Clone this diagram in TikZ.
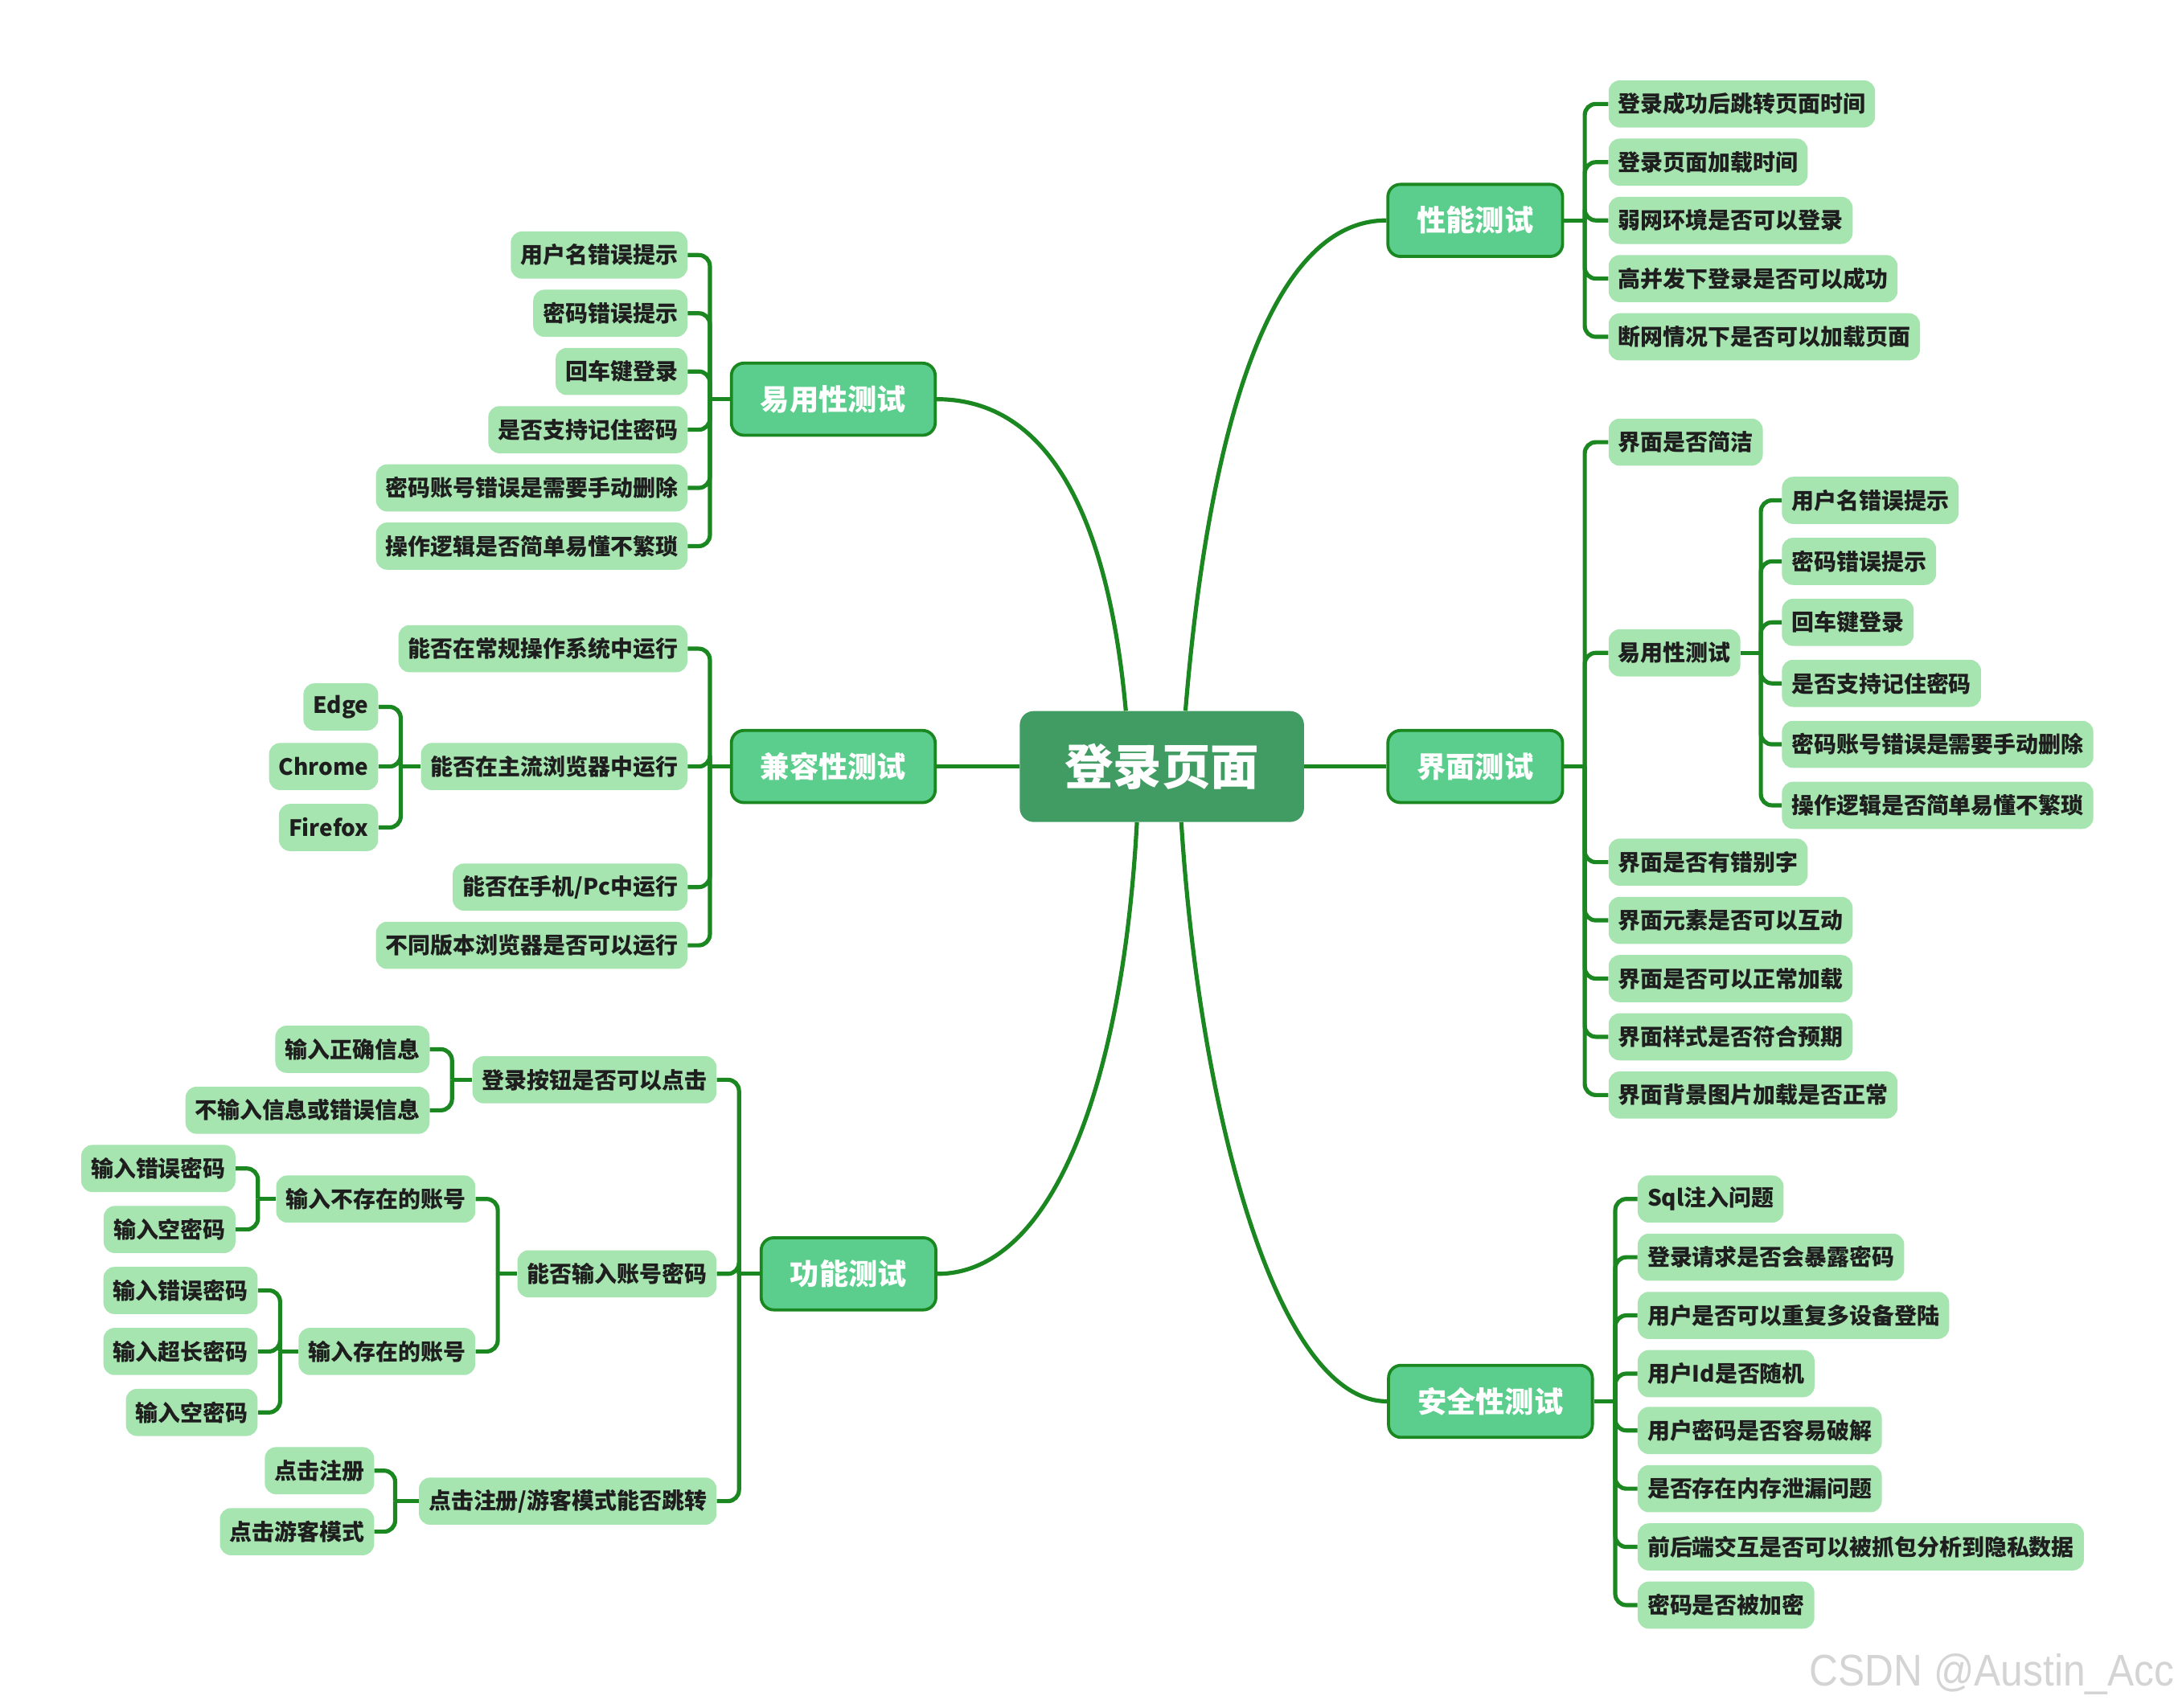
\documentclass[tikz,border=0pt]{standalone}
\usepackage{fontspec}
\setmainfont{Noto Sans CJK SC}
\newfontfamily\wmfont{Liberation Sans}
\definecolor{lineg}{RGB}{26,135,32}
\definecolor{leafg}{RGB}{166,228,176}
\definecolor{mainf}{RGB}{91,206,141}
\definecolor{rootf}{RGB}{65,156,99}
\definecolor{textc}{RGB}{30,30,30}
\definecolor{wmc}{RGB}{212,212,212}
\tikzset{
  conn/.style={draw=lineg, line width=3pt, rounded corners=8pt},
  leafbox/.style={fill=leafg, rounded corners=8pt, minimum height=34pt, inner xsep=7pt, inner ysep=0pt, text=textc, font=\fontsize{16.2}{18}\selectfont\bfseries},
  rleaf/.style={leafbox, anchor=west},
  lleaf/.style={leafbox, anchor=east},
  mainbox/.style={fill=mainf, draw=lineg, line width=2.2pt, rounded corners=9pt, minimum height=52pt, inner xsep=21pt, inner ysep=0pt, text=white, font=\fontsize{21}{24}\selectfont\bfseries},
  rootbox/.style={fill=rootf, rounded corners=10pt, minimum width=205pt, minimum height=80pt, text=white, font=\fontsize{35}{40}\selectfont\bfseries},
}
\begin{document}
\begin{tikzpicture}[x=1pt,y=-1pt]
\useasboundingbox (0,0) rectangle (1568,1232);
% root and main branches
\node[rootbox] (root) at (838,553) {登录页面};
\node[mainbox] (perf) at (1064,159) {性能测试};
\node[mainbox] (ui) at (1064,553) {界面测试};
\node[mainbox] (sec) at (1075,1011) {安全性测试};
\node[mainbox] (usab) at (601,288) {易用性测试};
\node[mainbox] (comp) at (601,553) {兼容性测试};
\node[mainbox] (func) at (612,919) {功能测试};
% performance
\node[rleaf] (p1) at (1160,75) {登录成功后跳转页面时间};
\node[rleaf] (p2) at (1160,117) {登录页面加载时间};
\node[rleaf] (p3) at (1160,159) {弱网环境是否可以登录};
\node[rleaf] (p4) at (1160,201) {高并发下登录是否可以成功};
\node[rleaf] (p5) at (1160,243) {断网情况下是否可以加载页面};
% UI
\node[rleaf] (u1) at (1160,319) {界面是否简洁};
\node[rleaf] (u2) at (1160,471) {易用性测试};
\node[rleaf] (u2a) at (1285,361) {用户名错误提示};
\node[rleaf] (u2b) at (1285,405) {密码错误提示};
\node[rleaf] (u2c) at (1285,449) {回车键登录};
\node[rleaf] (u2d) at (1285,493) {是否支持记住密码};
\node[rleaf] (u2e) at (1285,537) {密码账号错误是需要手动删除};
\node[rleaf] (u2f) at (1285,581) {操作逻辑是否简单易懂不繁琐};
\node[rleaf] (u3) at (1160,622) {界面是否有错别字};
\node[rleaf] (u4) at (1160,664) {界面元素是否可以互动};
\node[rleaf] (u5) at (1160,706) {界面是否可以正常加载};
\node[rleaf] (u6) at (1160,748) {界面样式是否符合预期};
\node[rleaf] (u7) at (1160,790) {界面背景图片加载是否正常};
% security
\node[rleaf] (s1) at (1181,865) {Sql注入问题};
\node[rleaf] (s2) at (1181,907) {登录请求是否会暴露密码};
\node[rleaf] (s3) at (1181,949) {用户是否可以重复多设备登陆};
\node[rleaf] (s4) at (1181,991) {用户Id是否随机};
\node[rleaf] (s5) at (1181,1032) {用户密码是否容易破解};
\node[rleaf] (s6) at (1181,1074) {是否存在内存泄漏问题};
\node[rleaf] (s7) at (1181,1116) {前后端交互是否可以被抓包分析到隐私数据};
\node[rleaf] (s8) at (1181,1158) {密码是否被加密};
% usability
\node[lleaf] (a1) at (496,184) {用户名错误提示};
\node[lleaf] (a2) at (496,226) {密码错误提示};
\node[lleaf] (a3) at (496,268) {回车键登录};
\node[lleaf] (a4) at (496,310) {是否支持记住密码};
\node[lleaf] (a5) at (496,352) {密码账号错误是需要手动删除};
\node[lleaf] (a6) at (496,394) {操作逻辑是否简单易懂不繁琐};
% compatibility
\node[lleaf] (c1) at (496,468) {能否在常规操作系统中运行};
\node[lleaf] (c2) at (496,553) {能否在主流浏览器中运行};
\node[lleaf] (c2a) at (273,510) {Edge};
\node[lleaf] (c2b) at (273,553) {Chrome};
\node[lleaf] (c2c) at (273,597) {Firefox};
\node[lleaf] (c3) at (496,640) {能否在手机/Pc中运行};
\node[lleaf] (c4) at (496,682) {不同版本浏览器是否可以运行};
% function
\node[lleaf] (f1) at (517,779) {登录按钮是否可以点击};
\node[lleaf] (f1a) at (310,757) {输入正确信息};
\node[lleaf] (f1b) at (310,801) {不输入信息或错误信息};
\node[lleaf] (f2) at (517,919) {能否输入账号密码};
\node[lleaf] (f2a) at (343,865) {输入不存在的账号};
\node[lleaf] (f2a1) at (170,843) {输入错误密码};
\node[lleaf] (f2a2) at (170,887) {输入空密码};
\node[lleaf] (f2b) at (343,975) {输入存在的账号};
\node[lleaf] (f2b1) at (186,931) {输入错误密码};
\node[lleaf] (f2b2) at (186,975) {输入超长密码};
\node[lleaf] (f2b3) at (186,1019) {输入空密码};
\node[lleaf] (f3) at (517,1083) {点击注册/游客模式能否跳转};
\node[lleaf] (f3a) at (270,1061) {点击注册};
\node[lleaf] (f3b) at (270,1105) {点击游客模式};
% bracket points
\coordinate (bperf) at (1143,159);
\coordinate (bui) at (1143,553);
\coordinate (bu2) at (1270,471);
\coordinate (bsec) at (1165,1011);
\coordinate (busab) at (512,288);
\coordinate (bcomp) at (512,553);
\coordinate (bc2) at (289,553);
\coordinate (bfunc) at (533,919);
\coordinate (bf1) at (326,779);
\coordinate (bf2) at (359,919);
\coordinate (bf2a) at (186,865);
\coordinate (bf2b) at (202,975);
\coordinate (bf3) at (285,1083);
% main connectors
\draw[conn] (comp.east) -- (root.west);
\draw[conn] (root.east) -- (ui.west);
\draw[conn] ([xshift=17pt]root.north) .. controls (870,330) and (910,159) .. (perf.west);
\draw[conn] ([xshift=-26pt]root.north) .. controls (800,380) and (760,288) .. (usab.east);
\draw[conn] ([xshift=-18pt]root.south) .. controls (810,780) and (760,919) .. (func.east);
\draw[conn] ([xshift=14pt]root.south) .. controls (865,800) and (920,1011) .. (sec.west);
% stubs
\draw[conn] (perf.east) -- (bperf);
\draw[conn] (ui.east) -- (bui);
\draw[conn] (u2.east) -- (bu2);
\draw[conn] (sec.east) -- (bsec);
\draw[conn] (usab.west) -- (busab);
\draw[conn] (comp.west) -- (bcomp);
\draw[conn] (c2.west) -- (bc2);
\draw[conn] (func.west) -- (bfunc);
\draw[conn] (f1.west) -- (bf1);
\draw[conn] (f2.west) -- (bf2);
\draw[conn] (f2a.west) -- (bf2a);
\draw[conn] (f2b.west) -- (bf2b);
\draw[conn] (f3.west) -- (bf3);
% bracket elbows
\foreach \n in {p1,p2,p3,p4,p5} \draw[conn] (bperf) |- (\n.west);
\foreach \n in {u1,u2,u3,u4,u5,u6,u7} \draw[conn] (bui) |- (\n.west);
\foreach \n in {u2a,u2b,u2c,u2d,u2e,u2f} \draw[conn] (bu2) |- (\n.west);
\foreach \n in {s1,s2,s3,s4,s5,s6,s7,s8} \draw[conn] (bsec) |- (\n.west);
\foreach \n in {a1,a2,a3,a4,a5,a6} \draw[conn] (busab) |- (\n.east);
\foreach \n in {c1,c2,c3,c4} \draw[conn] (bcomp) |- (\n.east);
\foreach \n in {c2a,c2b,c2c} \draw[conn] (bc2) |- (\n.east);
\foreach \n in {f1,f2,f3} \draw[conn] (bfunc) |- (\n.east);
\foreach \n in {f1a,f1b} \draw[conn] (bf1) |- (\n.east);
\foreach \n in {f2a,f2b} \draw[conn] (bf2) |- (\n.east);
\foreach \n in {f2a1,f2a2} \draw[conn] (bf2a) |- (\n.east);
\foreach \n in {f2b1,f2b2,f2b3} \draw[conn] (bf2b) |- (\n.east);
\foreach \n in {f3a,f3b} \draw[conn] (bf3) |- (\n.east);
% watermark
\node[anchor=base west, inner sep=0pt, text=wmc, font=\wmfont\fontsize{32}{32}\selectfont] (wm) at (1305,1216) {\scalebox{0.9}[1]{CSDN @Austin\_Acc}};
\end{tikzpicture}
\end{document}
